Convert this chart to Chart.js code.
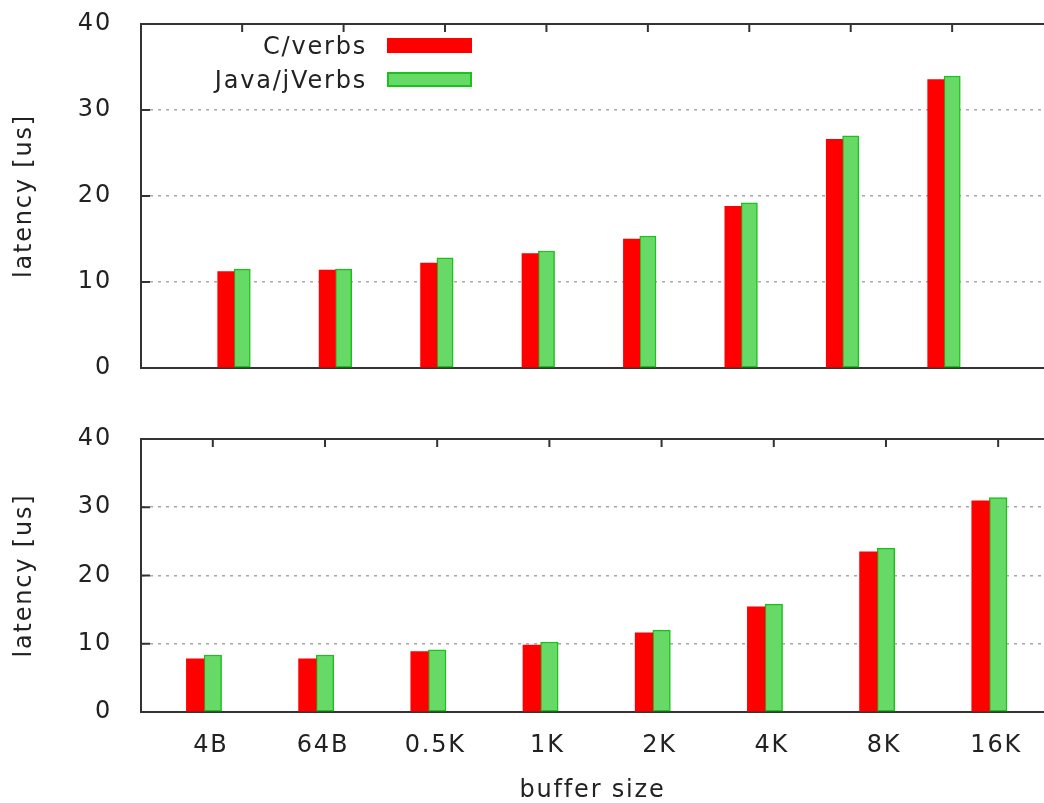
<!DOCTYPE html>
<html>
<head>
<meta charset="utf-8">
<script src="https://cdn.jsdelivr.net/npm/chart.js@4/dist/chart.umd.min.js"></script>
<style>
  body { margin: 0; background: #fff; }
  #wrap { position: relative; width: 1044px; height: 803px; overflow: hidden; }
  canvas { position: absolute; left: 0; }
  #top { top: 0; }
  #bottom { top: 400px; }
  .leg { position: absolute; font: 24px "DejaVu Sans", sans-serif; color: #222; letter-spacing: 1.8px; }
  .leg span { position: absolute; right: 0; white-space: nowrap; line-height: 30px; }
  .sw { position: absolute; width: 85px; height: 15px; box-sizing: border-box; }
</style>
</head>
<body>
<div id="wrap">
  <canvas id="top" width="1044" height="400"></canvas>
  <canvas id="bottom" width="1044" height="403"></canvas>
  <div id="legend"></div>
</div>
<script>
const sizes = ["4B", "64B", "0.5K", "1K", "2K", "4K", "8K", "16K"];
const seriesNames = ["C/verbs", "Java/jVerbs"];
const topC = [11.2, 11.4, 12.2, 13.3, 15.0, 18.8, 26.6, 33.55];
const topJava = [11.5, 11.5, 12.8, 13.6, 15.35, 19.2, 27.0, 33.95];
const botC = [7.8, 7.8, 8.85, 9.8, 11.6, 15.4, 23.45, 30.95];
const botJava = [8.35, 8.35, 9.1, 10.25, 12.0, 15.8, 24.0, 31.4];
const yTicks = [0, 10, 20, 30, 40];

const FONT = "'DejaVu Sans', sans-serif";
const TEXT = '#222';
const AXIS = '#333';
const SPACING = '1.8px';

function pts(vals) {
  return vals.map((v, i) => ({ x: i, y: v }));
}

// gnuplot style ticks pointing into the plot
const innerTicks = {
  id: 'innerTicks',
  beforeDraw(chart) {
    chart.ctx.letterSpacing = SPACING;
  },
  beforeDatasetsDraw(chart, args, opts) {
    const ctx = chart.ctx;
    const a = chart.chartArea;
    const x = chart.scales.x, y = chart.scales.y;
    ctx.save();
    ctx.strokeStyle = AXIS;
    ctx.lineWidth = 2;
    ctx.setLineDash([]);
    ctx.beginPath();
    yTicks.forEach(t => {
      const py = y.getPixelForValue(t);
      ctx.moveTo(a.left, py);
      ctx.lineTo(a.left + 9, py);
    });
    sizes.forEach((s, i) => {
      const px = x.getPixelForValue(i) + opts.shift;
      ctx.moveTo(px, a.top);
      ctx.lineTo(px, a.top + 8);
      ctx.moveTo(px, a.bottom);
      ctx.lineTo(px, a.bottom - 8);
    });
    ctx.stroke();
    ctx.restore();
  }
};

function makeChart(id, cVals, jVals, xmin, xmax, thick, areaTop, areaBottom, showX) {
  const canvas = document.getElementById(id);
  canvas.getContext('2d').letterSpacing = SPACING;
  return new Chart(canvas, {
    type: 'bar',
    data: {
      datasets: [{
        label: seriesNames[0],
        data: pts(cVals),
        backgroundColor: '#ff0000',
        borderWidth: 0
      }, {
        label: seriesNames[1],
        data: pts(jVals),
        backgroundColor: '#66d966',
        borderColor: '#1cc21c',
        borderWidth: 1.5,
        borderSkipped: false
      }]
    },
    options: {
      responsive: false,
      animation: false,
      layout: { padding: { top: areaTop, left: 0, right: 0, bottom: 0 } },
      datasets: { bar: { barThickness: thick, grouped: true } },
      plugins: {
        legend: { display: false },
        tooltip: { enabled: false },
        innerTicks: { shift: thick / 2 }
      },
      scales: {
        x: {
          type: 'linear',
          position: 'bottom',
          offset: false,
          min: xmin,
          max: xmax,
          afterBuildTicks: sc => { sc.ticks = sizes.map((s, i) => ({ value: i })); },
          afterFit: sc => {
            sc.height = canvas.height - areaBottom;
            sc.paddingLeft = 0; sc.paddingRight = 0;
          },
          grid: { display: false, drawTicks: false, offset: false },
          border: { display: true, color: AXIS, width: 2 },
          ticks: {
            display: showX,
            padding: 19,
            labelOffset: thick / 2 - 2,
            color: TEXT,
            font: { family: FONT, size: 24 },
            maxRotation: 0,
            autoSkip: false,
            callback: v => sizes[v]
          },
          title: {
            display: showX,
            text: 'buffer size',
            color: TEXT,
            font: { family: FONT, size: 24, lineHeight: 1 },
            padding: { top: 0, bottom: 0 }
          }
        },
        x2: {
          type: 'linear',
          position: 'top',
          offset: false,
          min: xmin,
          max: xmax,
          afterFit: sc => { sc.height = 0; sc.paddingLeft = 0; sc.paddingRight = 0; },
          grid: { display: false, drawTicks: false, offset: false },
          border: { display: true, color: AXIS, width: 2 },
          ticks: { display: false }
        },
        y: {
          min: 0,
          max: 40,
          afterBuildTicks: sc => { sc.ticks = yTicks.map(v => ({ value: v })); },
          afterFit: sc => { sc.width = 141; sc.paddingTop = 0; sc.paddingBottom = 0; },
          grid: {
            drawTicks: false,
            color: c => (c.tick.value === 0 || c.tick.value === 40) ? 'rgba(0,0,0,0)' : '#a8a8a8',
            lineWidth: 1.6
          },
          border: { display: true, color: AXIS, width: 2, dash: [3, 5] },
          ticks: {
            padding: 29,
            color: TEXT,
            font: { family: FONT, size: 24 }
          },
          title: {
            display: true,
            text: 'latency [us]',
            color: TEXT,
            font: { family: FONT, size: 24, lineHeight: 1 },
            padding: { top: 12.5, bottom: 0 }
          }
        }
      }
    },
    plugins: [innerTicks]
  });
}

const topChart = makeChart('top', topC, topJava, -0.917, 7.986, 16.3, 24, 368, false);
const botChart = makeChart('bottom', botC, botJava, -0.5615, 7.487, 17.6, 39, 312, true);

// legend: text right aligned, sample on the right (gnuplot key)
const legend = document.getElementById('legend');
const legColors = [['#ff0000', 'none'], ['#66d966', '2px solid #1cc21c']];
seriesNames.forEach((name, i) => {
  const cy = 46 + i * 34;
  const t = document.createElement('div');
  t.className = 'leg';
  t.style.left = '0px';
  t.style.width = '367px';
  t.style.top = (cy - 15) + 'px';
  t.innerHTML = '<span>' + name + '</span>';
  legend.appendChild(t);
  const sw = document.createElement('div');
  sw.className = 'sw';
  sw.style.left = '387px';
  sw.style.top = (cy - 8) + 'px';
  sw.style.background = legColors[i][0];
  sw.style.border = legColors[i][1];
  legend.appendChild(sw);
});
</script>
</body>
</html>
